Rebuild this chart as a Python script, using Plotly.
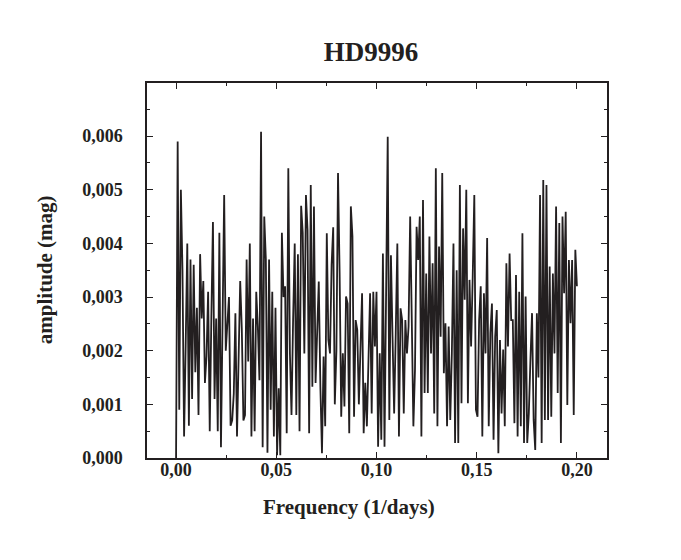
import numpy as np
import plotly.graph_objects as go

# periodogram of HD9996, amplitudes in mmag, frequency step 0.0008 1/days
freq_step = 0.0008

amp_0_031 = [0, 5.9, 0.9, 5.0, 3.5, 0.4, 2.1, 4.0, 0.6, 3.7, 1.1, 3.6, 1.6, 2.8,
             0.8, 3.8, 2.6, 3.3, 1.4, 1.9, 3.1, 0.5, 2.6, 4.4, 1.1, 2.6, 0.5, 4.2,
             0.2, 2.4, 4.9, 2.0, 2.6, 3.0, 0.6, 0.7, 1.2, 2.7, 0.4]
amp_031_065 = [1.6, 3.3, 2.4, 0.7, 0.8, 3.7, 1.8, 4.0, 0.4, 2.6, 0.5, 3.1, 2.45,
               1.45, 6.08, 0.2, 4.5, 3.7, 0.1, 3.7, 0.9, 3.1, 0.4, 2.8, 0.05, 1.3,
               0.05, 4.2, 3.0, 3.2, 0.46, 5.4, 1.95, 0.8, 2.6, 4.0, 0.8, 3.8, 0.5,
               4.7, 4.2, 1.95, 4.9]
amp_065_100 = [4.25, 0.46, 5.09, 1.33, 4.69, 1.4, 2.45, 3.29, 1.33, 0.09, 1.89,
               0.59, 4.19, 2.2, 1.95, 3.6, 4.3, 1.0, 2.0, 5.31, 3.44, 0.77, 1.95,
               0.96, 3.01, 2.88, 0.46, 4.69, 4.13, 0.77, 2.57, 2.39, 1.0, 2.33,
               3.07, 0.46, 1.4, 0.59, 2.2, 3.07, 0.83, 3.1, 2.08, 3.1]
amp_100_134 = [0.21, 1.95, 0.34, 3.81, 0.21, 2.57, 5.99, 0.71, 3.78, 2.26, 0.83,
               2.33, 4.0, 0.4, 2.79, 2.57, 0.83, 2.57, 1.95, 2.45, 4.5, 2.57, 0.59,
               1.64, 4.31, 3.69, 4.5, 0.4, 4.81, 1.21, 3.44, 1.21, 4.13, 1.95, 3.63,
               0.83, 5.4, 0.59, 3.94, 2.26, 5.31, 1.58]
amp_134_167 = [2.51, 0.59, 2.45, 0.71, 1.95, 4.0, 0.28, 3.5, 0.28, 5.09, 1.02,
               4.28, 2.95, 5.0, 1.02, 3.32, 2.08, 3.38, 4.9, 0.9, 0.77, 2.57, 3.2,
               0.4, 3.07, 1.95, 4.1, 0.59, 2.33, 2.88, 0.34, 2.26, 2.76, 0.09, 2.2,
               0.83, 2.02, 0.59, 3.63, 2.08, 3.81, 2.57]
amp_167_200 = [2.57, 0.65, 3.41, 0.4, 3.1, 0.59, 4.19, 0.28, 3.01, 0.28, 0.83,
               1.83, 2.7, 0.71, 0.15, 2.7, 1.5, 4.9, 0.28, 5.18, 0.71, 5.09, 0.71,
               3.57, 0.77, 3.44, 1.95, 4.69, 1.21, 4.38, 0.28, 4.5, 3.07, 4.59,
               0.99, 3.69, 2.51, 3.69, 0.8, 3.88, 3.2]

amp_mmag = (amp_0_031 + amp_031_065 + amp_065_100 + amp_100_134
            + amp_134_167 + amp_167_200)
amplitude = np.array(amp_mmag) / 1000.0
frequency = np.arange(len(amplitude)) * freq_step

font_family = "Liberation Serif, Times New Roman, serif"
ink = "#231f20"

fig = go.Figure(go.Scatter(
    x=frequency, y=amplitude, mode="lines",
    line=dict(color=ink, width=1.8),
    showlegend=False,
))

axis_common = dict(
    showline=True, linecolor=ink, linewidth=1.5, mirror="allticks",
    ticks="inside", ticklen=6, tickwidth=1.3, tickcolor=ink,
    showgrid=False, zeroline=False, automargin=False,
    tickfont=dict(family=font_family, size=18, color=ink, weight="bold"),
)

fig.update_xaxes(
    range=[-0.0145, 0.215], dtick=0.05, tick0=0, tickformat=".2f",
    minor=dict(ticks="inside", ticklen=3, tickcolor=ink, dtick=0.025, tick0=0),
    ticklabelstandoff=-5,
    **axis_common,
)
fig.update_yaxes(
    range=[0, 0.00699], dtick=0.001, tick0=0, tickformat=".3f",
    minor=dict(ticks="inside", ticklen=3, tickcolor=ink, dtick=0.0005, tick0=0),
    ticklabelstandoff=19,
    **axis_common,
)

title_font = dict(family=font_family, size=21, color=ink, weight="bold")
fig.add_annotation(text="Frequency (1/days)", xref="paper", yref="paper",
                   x=0.439, y=-0.1307, xanchor="center", yanchor="middle",
                   showarrow=False, font=title_font)
fig.add_annotation(text="amplitude (mag)", xref="paper", yref="paper",
                   x=-0.2217, y=0.501, xanchor="center", yanchor="middle",
                   textangle=-90, showarrow=False, font=title_font)

# page body adds an 8px offset, margins are shifted to compensate
fig.update_layout(
    width=681, height=560,
    margin=dict(l=139, r=82, t=75, b=110),
    paper_bgcolor="white", plot_bgcolor="white",
    separators=", ",
    title=dict(text="HD9996", xref="container", x=0.533, xanchor="center",
               y=0.922, yanchor="middle",
               font=dict(family=font_family, size=27, color=ink, weight="bold")),
)

fig.write_html("out.html")
